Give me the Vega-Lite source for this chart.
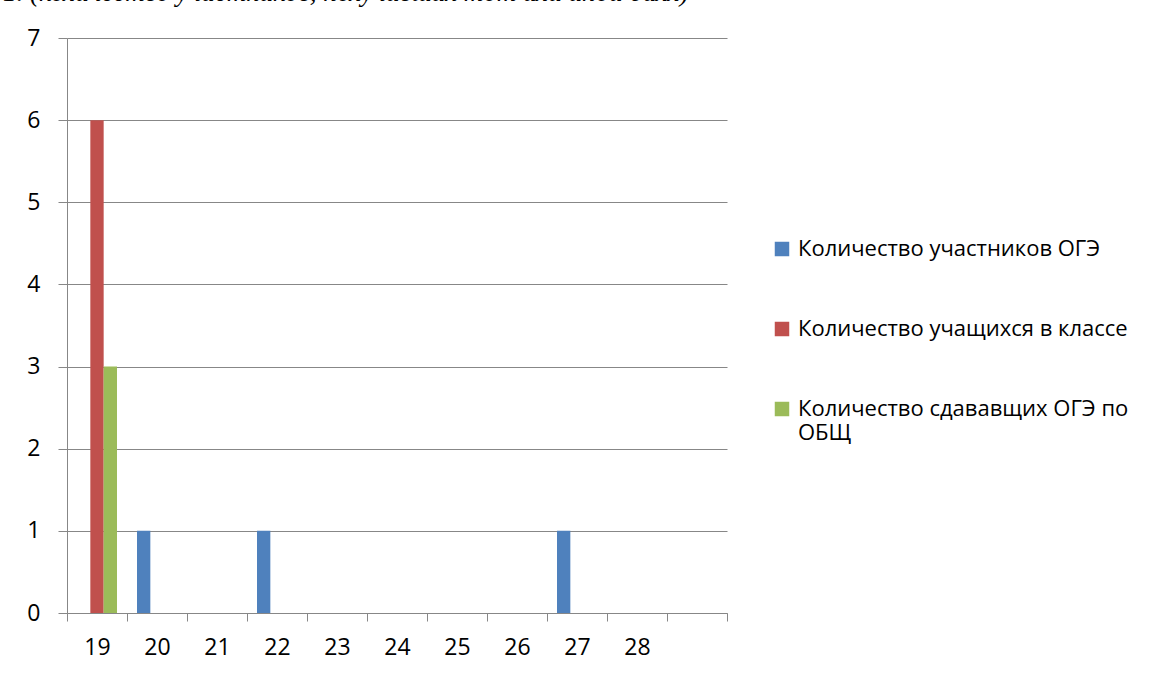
{
  "$schema": "https://vega.github.io/schema/vega-lite/v6.json",
  "width": 660,
  "height": 575,
  "autosize": {"type": "none"},
  "padding": {"left": 67, "top": 38, "right": 424, "bottom": 62},
  "background": "white",
  "title": {
    "text": "1. (количество участников, получивших тот или иной балл)",
    "anchor": "start",
    "frame": "group",
    "font": "Liberation Serif",
    "fontStyle": "italic",
    "fontWeight": "normal",
    "fontSize": 27,
    "color": "black",
    "baseline": "alphabetic",
    "offset": -1,
    "dx": -64
  },
  "data": {
    "values": [
      {"score": "19", "series": "Количество участников ОГЭ", "count": 0},
      {"score": "19", "series": "Количество учащихся в классе", "count": 6},
      {"score": "19", "series": "Количество сдававщих ОГЭ по ОБЩ", "count": 3},
      {"score": "20", "series": "Количество участников ОГЭ", "count": 1},
      {"score": "22", "series": "Количество участников ОГЭ", "count": 1},
      {"score": "27", "series": "Количество участников ОГЭ", "count": 1}
    ]
  },
  "mark": {"type": "bar"},
  "encoding": {
    "x": {
      "field": "score",
      "type": "nominal",
      "sort": null,
      "scale": {
        "domain": ["19", "20", "21", "22", "23", "24", "25", "26", "27", "28", " "],
        "paddingInner": 0,
        "paddingOuter": 0
      },
      "axis": {
        "title": null,
        "labelAngle": 0,
        "tickBand": "extent",
        "domainColor": "#878787",
        "tickColor": "#878787",
        "tickSize": 8,
        "labelFont": "Open Sans",
        "labelFontSize": 23,
        "labelColor": "black",
        "labelPadding": 15,
        "grid": false
      }
    },
    "xOffset": {
      "field": "series",
      "type": "nominal",
      "scale": {
        "domain": ["Количество участников ОГЭ", "Количество учащихся в классе", "Количество сдававщих ОГЭ по ОБЩ"],
        "paddingInner": 0,
        "paddingOuter": 0.75
      }
    },
    "y": {
      "field": "count",
      "type": "quantitative",
      "scale": {"domain": [0, 7], "nice": false},
      "axis": {
        "title": null,
        "values": [0, 1, 2, 3, 4, 5, 6, 7],
        "grid": true,
        "gridColor": "#878787",
        "domainColor": "#878787",
        "tickColor": "#878787",
        "tickSize": 9,
        "labelPadding": 18,
        "labelFont": "Open Sans",
        "labelFontSize": 23,
        "labelColor": "black"
      }
    },
    "color": {
      "field": "series",
      "type": "nominal",
      "scale": {
        "domain": ["Количество участников ОГЭ", "Количество учащихся в классе", "Количество сдававщих ОГЭ по ОБЩ"],
        "range": ["#4F81BD", "#C0504D", "#9BBB59"]
      },
      "legend": {
        "title": null,
        "orient": "none",
        "legendX": 704,
        "legendY": 200,
        "symbolType": "square",
        "symbolSize": 210,
        "symbolStrokeWidth": 0,
        "labelFont": "Open Sans",
        "labelFontSize": 22,
        "labelColor": "black",
        "rowPadding": 58,
        "labelOffset": 5,
        "labelLimit": 440,
        "labelExpr": "datum.label == 'Количество сдававщих ОГЭ по ОБЩ' ? ['Количество сдававщих ОГЭ по', 'ОБЩ'] : datum.label"
      }
    }
  },
  "config": {"view": {"stroke": null}}
}
